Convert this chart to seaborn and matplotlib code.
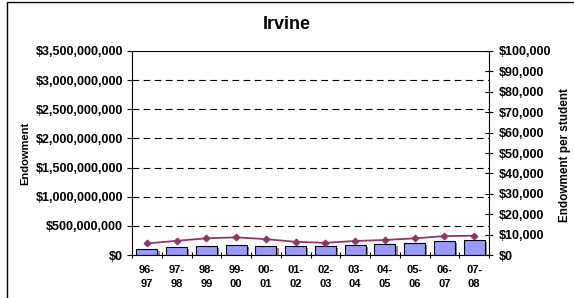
import matplotlib
matplotlib.use("Agg")
import matplotlib.pyplot as plt
import matplotlib.patheffects as pe
from matplotlib.ticker import FuncFormatter, MultipleLocator
import seaborn as sns
import pandas as pd

years = ["96-\n97", "97-\n98", "98-\n99", "99-\n00", "00-\n01", "01-\n02",
         "02-\n03", "03-\n04", "04-\n05", "05-\n06", "06-\n07", "07-\n08"]
endowment = [103e6, 132e6, 150e6, 166e6, 160e6, 150e6,
             150e6, 177e6, 190e6, 211e6, 240e6, 257e6]
per_student = [5700, 7000, 8200, 8700, 7800, 6500,
               6000, 6900, 7400, 8200, 9300, 9500]

df = pd.DataFrame({"year": years, "endowment": endowment, "per_student": per_student})

sns.set_style("white", rc={"text.color": "black", "axes.labelcolor": "black",
                           "xtick.color": "black", "ytick.color": "black",
                           "axes.edgecolor": "black"})
plt.rcParams["font.family"] = ["Liberation Sans", "DejaVu Sans"]

fig = plt.figure(figsize=(5.74, 2.98), dpi=100)
ax = fig.add_axes([0.23, 0.144, 0.622, 0.685])

sns.barplot(data=df, x="year", y="endowment", ax=ax, color="#9999FF",
            edgecolor="black", linewidth=0.8, width=0.71, saturation=1)
for p in ax.patches:
    p.set_path_effects([pe.SimplePatchShadow(offset=(1.5, -1.5), shadow_rgbFace="#888888", alpha=1.0), pe.Normal()])

ax.set_ylim(0, 3.5e9)
ax.set_xlim(-0.5, len(years) - 0.5)
ax.yaxis.set_major_locator(MultipleLocator(5e8))
ax.yaxis.set_major_formatter(FuncFormatter(lambda v, p: "${:,.0f}".format(v)))
for yv in [5e8 * i for i in range(1, 7)]:
    ax.axhline(yv, color="black", lw=0.8, ls=(0, (6, 4)), zorder=0)
ax.axhline(3.5e9, color="black", lw=0.8, zorder=0)

for s in ["top", "right"]:
    ax.spines[s].set_visible(False)
ax.spines["left"].set_linewidth(0.8)
ax.spines["bottom"].set_linewidth(0.8)
ax.tick_params(axis="y", direction="out", length=3.5, width=0.8, labelsize=9, pad=3, left=True)
for lab in ax.get_yticklabels():
    lab.set_fontweight("bold")
ax.set_xticks([i + 0.5 for i in range(-1, len(years))], minor=True)
ax.tick_params(axis="x", which="minor", direction="inout", length=5, width=0.8, bottom=True)
ax.tick_params(axis="x", which="major", length=0, labelsize=8, pad=7)
for lab in ax.get_xticklabels():
    lab.set_fontweight("bold")
    lab.set_linespacing(1.5)
ax.set_xlabel("")
ax.set_ylabel("Endowment", fontsize=8, fontweight="bold", labelpad=4)

ax2 = ax.twinx()
sns.lineplot(data=df, x="year", y="per_student", ax=ax2, color="#993366",
             lw=1.3, marker="D", markersize=3.5, markeredgecolor="#993366", sort=False)
ax2.set_ylim(0, 100000)
ax2.set_xlim(-0.5, len(years) - 0.5)
ax2.yaxis.set_major_locator(MultipleLocator(10000))
ax2.yaxis.set_major_formatter(FuncFormatter(lambda v, p: "${:,.0f}".format(v)))
for s in ["top", "left", "bottom"]:
    ax2.spines[s].set_visible(False)
ax2.spines["right"].set_linewidth(0.8)
ax2.tick_params(axis="y", direction="inout", length=6, width=0.8, labelsize=9, pad=4, right=True)
for lab in ax2.get_yticklabels():
    lab.set_fontweight("bold")
ax2.set_ylabel("")
fig.text(565 / 574, 1 - 155 / 298, "Endowment per student", rotation=90,
         ha="center", va="center", fontsize=8.5, fontweight="bold")

fig.text(0.5, 0.919, "Irvine", ha="center", va="center", fontsize=13, fontweight="bold")

border = plt.Rectangle((7 / 574, -0.05), 1.2, 1.05 - 2 / 298, transform=fig.transFigure,
                       fill=False, edgecolor="black", lw=1, clip_on=False)
fig.patches.append(border)

fig.savefig("out.png", dpi=100)
